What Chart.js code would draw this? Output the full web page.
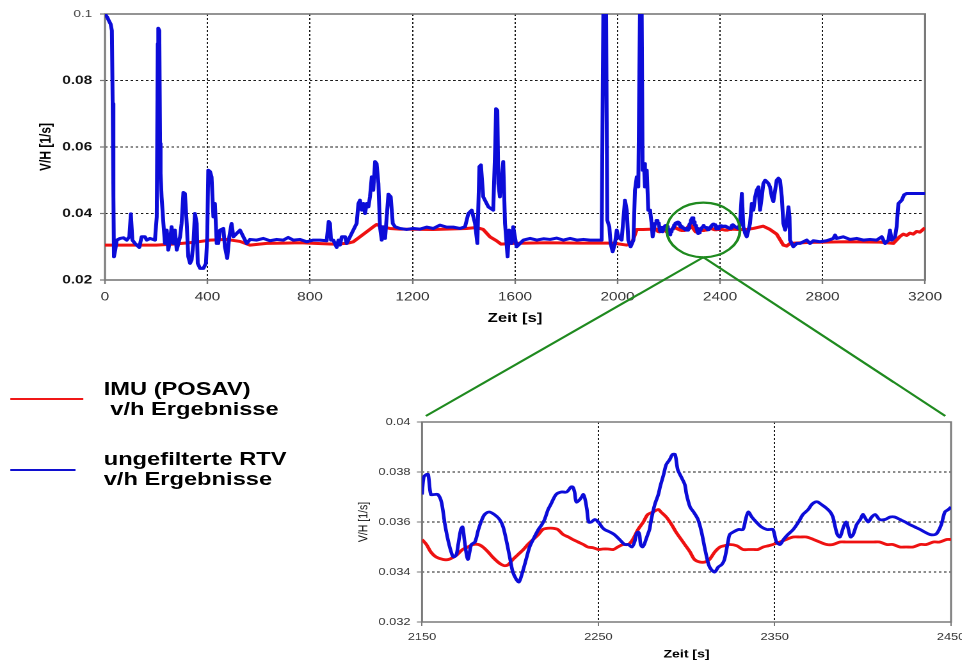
<!DOCTYPE html>
<html>
<head>
<meta charset="utf-8">
<script src="https://cdn.jsdelivr.net/npm/chart.js@4.4.1/dist/chart.umd.min.js"></script>
<style>
html, body { margin: 0; padding: 0; background: #fff; overflow: hidden; width: 962px; height: 662px; }
/* the original figure is stretched sideways, so the whole page is drawn narrow and scaled */
#page { position: absolute; left: 0; top: 0; width: 752px; height: 662px; transform: scaleX(1.28); transform-origin: 0 0; font-family: "Liberation Sans", Arial, sans-serif; }
#mainChart { position: absolute; left: 0; top: 0; }
#zoomChart { position: absolute; left: 270px; top: 400px; }
#overlay { position: absolute; left: 0; top: 0; pointer-events: none; }
.leg { position: absolute; left: 81px; font-weight: bold; font-size: 18.5px; line-height: 20px; color: #000; white-space: nowrap; }
.swatch { position: absolute; left: 8px; }
</style>
</head>
<body>
<div id="page">
  <canvas id="mainChart" width="752" height="335"></canvas>
  <canvas id="zoomChart" width="493" height="270"></canvas>
  <div class="swatch" style="top:398px;width:57px;height:1.6px;background:#f01818;"></div>
  <div class="leg" style="top:379px;">IMU (POSAV)<br>&nbsp;v/h Ergebnisse</div>
  <div class="swatch" style="top:469px;width:51px;height:2px;background:#1010d0;"></div>
  <div class="leg" style="top:449px;">ungefilterte RTV<br>v/h Ergebnisse</div>
  <svg id="overlay" width="752" height="662"></svg>
</div>
<script>
Chart.defaults.font.family = '"Liberation Sans", Arial, sans-serif';

const mainTimeTicks = [0, 400, 800, 1200, 1600, 2000, 2400, 2800, 3200];
const mainRateTicks = [0.02, 0.04, 0.06, 0.08, 0.1];
const zoomTimeTicks = [2150, 2250, 2350, 2450];
const zoomRateTicks = [0.032, 0.034, 0.036, 0.038, 0.04];

// ungefilterte RTV, whole flight (the 2150-2450 part comes from the zoom arrays)
const rtvTime = [
  0, 9, 17, 22, 27, 30, 33, 35, 40, 46,
  59, 72, 85, 95, 101, 107, 117, 134, 143, 156,
  163, 176, 195, 202, 206, 208, 212, 215, 217, 221,
  228, 234, 241, 247, 254, 260, 267, 273, 280, 293,
  299, 306, 312, 319, 325, 332, 338, 345, 351, 358,
  362, 371, 384, 394, 399, 403, 410, 416, 423, 429,
  436, 442, 449, 462, 468, 477, 485, 494, 501, 514,
  527, 540, 553, 566, 592, 618, 644, 670, 696, 715,
  735, 761, 787, 813, 839, 865, 873, 878, 882, 891,
  904, 911, 917, 924, 937, 943, 956, 969, 982, 989,
  995, 1002, 1008, 1015, 1021, 1028, 1034, 1041, 1047, 1054,
  1060, 1067, 1073, 1080, 1086, 1093, 1106, 1115, 1123, 1132,
  1151, 1177, 1203, 1229, 1255, 1281, 1307, 1333, 1359, 1385,
  1405, 1418, 1431, 1444, 1453, 1461, 1467, 1476, 1496, 1515,
  1523, 1526, 1531, 1535, 1541, 1548, 1554, 1561, 1567, 1571,
  1577, 1587, 1593, 1606, 1633, 1659, 1685, 1711, 1737, 1763,
  1789, 1815, 1841, 1867, 1893, 1919, 1938, 1945, 1955, 1960,
  1968, 1973, 1981, 1990, 1997, 2003, 2016, 2029, 2036, 2042,
  2051, 2062, 2068, 2075, 2081, 2088, 2094, 2098, 2103, 2107,
  2114, 2120, 2127, 2133, 2137, 2146,
  2459, 2472, 2478, 2485, 2491, 2498, 2504, 2511, 2517, 2524,
  2530, 2537, 2543, 2550, 2556, 2563, 2569, 2576, 2582, 2589,
  2595, 2602, 2608, 2615, 2621, 2628, 2634, 2641, 2647, 2654,
  2660, 2667, 2671, 2673, 2686, 2699, 2712, 2725, 2738, 2751,
  2764, 2790, 2816, 2842, 2849, 2855, 2881, 2907, 2933, 2959,
  2985, 3011, 3031, 3044, 3057, 3063, 3070, 3083, 3089, 3096,
  3109, 3118, 3128, 3200
];
const rtvValue = [
  0.100, 0.099, 0.0977, 0.097, 0.095, 0.073, 0.045, 0.027, 0.029, 0.032,
  0.0325, 0.0327, 0.032, 0.033, 0.0399, 0.032, 0.031, 0.0298, 0.033, 0.033,
  0.032, 0.0325, 0.032, 0.039, 0.091, 0.0957, 0.095, 0.061, 0.052, 0.045,
  0.037, 0.031, 0.035, 0.029, 0.032, 0.036, 0.031, 0.035, 0.029, 0.033,
  0.037, 0.0463, 0.046, 0.037, 0.027, 0.025, 0.026, 0.031, 0.040, 0.037,
  0.025, 0.0235, 0.0235, 0.025, 0.033, 0.053, 0.0526, 0.051, 0.039, 0.043,
  0.031, 0.031, 0.035, 0.0355, 0.030, 0.0265, 0.033, 0.037, 0.033, 0.034,
  0.035, 0.033, 0.031, 0.0322, 0.032, 0.0325, 0.0318, 0.0322, 0.032, 0.0328,
  0.032, 0.0322, 0.0315, 0.032, 0.032, 0.0318, 0.0376, 0.037, 0.032, 0.032,
  0.0298, 0.032, 0.0305, 0.033, 0.033, 0.031, 0.033, 0.035, 0.037, 0.043,
  0.044, 0.041, 0.043, 0.040, 0.043, 0.042, 0.045, 0.051, 0.047, 0.0556,
  0.055, 0.049, 0.036, 0.032, 0.036, 0.0325, 0.0458, 0.045, 0.037, 0.036,
  0.0355, 0.0352, 0.0355, 0.0353, 0.0359, 0.0355, 0.0365, 0.0359, 0.0359, 0.0355,
  0.036, 0.040, 0.041, 0.037, 0.031, 0.0541, 0.0546, 0.045, 0.042, 0.041,
  0.061, 0.0715, 0.071, 0.049, 0.045, 0.051, 0.0556, 0.037, 0.031, 0.027,
  0.035, 0.031, 0.036, 0.030, 0.032, 0.0325, 0.032, 0.0324, 0.0322, 0.0326,
  0.032, 0.0325, 0.032, 0.0322, 0.032, 0.032, 0.032, 0.105, 0.105, 0.038,
  0.036, 0.031, 0.0285, 0.031, 0.035, 0.033, 0.032, 0.044, 0.041, 0.032,
  0.030, 0.032, 0.047, 0.051, 0.048, 0.105, 0.105, 0.053, 0.055, 0.048,
  0.053, 0.041, 0.041, 0.037, 0.033, 0.037,
  0.036, 0.0355, 0.037, 0.046, 0.036, 0.034, 0.033, 0.035, 0.037, 0.043,
  0.041, 0.045, 0.047, 0.048, 0.041, 0.045, 0.049, 0.050, 0.0496, 0.049,
  0.048, 0.045, 0.0436, 0.047, 0.050, 0.0506, 0.050, 0.045, 0.037, 0.035,
  0.037, 0.042, 0.039, 0.032, 0.030, 0.031, 0.031, 0.0315, 0.032, 0.031,
  0.0318, 0.0315, 0.0318, 0.0325, 0.0335, 0.0325, 0.033, 0.0322, 0.0325, 0.032,
  0.0322, 0.032, 0.033, 0.031, 0.032, 0.035, 0.032, 0.033, 0.036, 0.043,
  0.044, 0.0456, 0.046, 0.046
];

// IMU (POSAV), whole flight
const imuTime = [
  0, 100, 200, 250, 300, 345, 410, 475, 527, 566,
  631, 700, 761, 891, 943, 969, 995, 1021, 1047, 1060,
  1080, 1112, 1151, 1281, 1411, 1450, 1476, 1502, 1528, 1545,
  1593, 1723, 1853, 1983, 2035, 2055, 2075, 2100, 2140,
  2470, 2504, 2530, 2568, 2595, 2621, 2647, 2660, 2673, 2750,
  2894, 3024, 3076, 3102, 3115, 3128, 3141, 3154, 3167, 3180,
  3192, 3200
];
const imuValue = [
  0.0305, 0.0305, 0.0305, 0.0307, 0.031, 0.0313, 0.032, 0.0322, 0.0316, 0.0305,
  0.031, 0.0311, 0.0312, 0.0308, 0.031, 0.0315, 0.033, 0.0345, 0.036, 0.0367,
  0.036, 0.0355, 0.0353, 0.0352, 0.0355, 0.0358, 0.0352, 0.033, 0.0318, 0.0308,
  0.031, 0.0312, 0.0311, 0.0311, 0.0305, 0.0308, 0.0352, 0.0352, 0.0353,
  0.0352, 0.0352, 0.0355, 0.0362, 0.0352, 0.0338, 0.0305, 0.0302, 0.031, 0.0313,
  0.0315, 0.0314, 0.031, 0.0331, 0.0338, 0.0334, 0.0341, 0.0338, 0.0346, 0.0344,
  0.0352, 0.0357
];

// zoomed window 2150-2450 s
const zoomRtvTime = [
  2150, 2151, 2152.5, 2153.5, 2155, 2157, 2159, 2161, 2163, 2165,
  2167, 2168, 2169.5, 2170.5, 2172, 2173, 2174, 2175, 2176, 2177,
  2178, 2180, 2182, 2184, 2185.5, 2188, 2191, 2194, 2196, 2198,
  2200, 2201.5, 2203.5, 2205, 2207, 2209, 2211, 2213, 2216, 2218,
  2219.5, 2221.5, 2223, 2226, 2229, 2232, 2234.5, 2235.5, 2236.5, 2237.5,
  2239.5, 2240.5, 2241.5, 2242.5, 2243.5, 2244.5, 2246, 2248, 2250, 2252,
  2253.5, 2256.5, 2259, 2262, 2265, 2267, 2269, 2270.5, 2271.5, 2272.5,
  2273.3, 2274, 2275, 2276, 2277, 2278, 2279, 2280, 2282, 2284,
  2285, 2287, 2288.5, 2290.5, 2292, 2293.5, 2295, 2297, 2299, 2300,
  2302, 2304, 2306.5, 2308.5, 2310.5, 2312.5, 2314, 2316, 2318, 2320,
  2321.5, 2323.5, 2324.5, 2326.5, 2329.5, 2332, 2333.5, 2335, 2337, 2339.5,
  2342.5, 2345.5, 2347, 2349, 2351, 2353, 2355, 2357.5, 2360.5, 2363.5,
  2366, 2369, 2371, 2373, 2374.5, 2376.5, 2378.5, 2381.5, 2383, 2384,
  2385.5, 2387, 2389, 2390.5, 2391.5, 2393, 2394.5, 2396.5, 2398.5, 2400,
  2401, 2403, 2405, 2407, 2409.5, 2412.5, 2415.5, 2418, 2421, 2424,
  2426.5, 2429.5, 2432.5, 2435, 2438, 2441, 2442.5, 2444.5, 2446.5, 2448.5,
  2450
];
const zoomRtvValue = [
  0.0371, 0.0378, 0.0379, 0.0379, 0.0371, 0.0371, 0.0371, 0.0368, 0.0359, 0.0352,
  0.0347, 0.0346, 0.0347, 0.0351, 0.0357, 0.0358, 0.0353, 0.0348, 0.0345, 0.0348,
  0.0351, 0.0352, 0.0357, 0.0361, 0.0363, 0.0364, 0.0363, 0.0361, 0.0358, 0.0352,
  0.0345, 0.0340, 0.0337, 0.0336, 0.0340, 0.0345, 0.0350, 0.0353, 0.0357, 0.0359,
  0.0361, 0.0365, 0.0367, 0.0371, 0.0372, 0.0372, 0.0374, 0.0374, 0.0372, 0.0368,
  0.0369, 0.0370, 0.0371, 0.0369, 0.0365, 0.0360, 0.0360, 0.0361, 0.0360, 0.0358,
  0.0357, 0.0356, 0.0355, 0.0353, 0.0351, 0.0351, 0.0350, 0.0352, 0.0355, 0.0356,
  0.0355, 0.0351, 0.0350, 0.0351, 0.0353, 0.0355, 0.0357, 0.0361, 0.0367, 0.0371,
  0.0374, 0.0379, 0.0383, 0.0385, 0.0387, 0.0387, 0.0381, 0.0378, 0.0375, 0.0371,
  0.0366, 0.0364, 0.0361, 0.0356, 0.0349, 0.0343, 0.0341, 0.0340, 0.0342, 0.0343,
  0.0345, 0.0352, 0.0355, 0.0356, 0.0357, 0.0357, 0.0361, 0.0364, 0.0362, 0.0360,
  0.0358, 0.0357, 0.0357, 0.0357, 0.0352, 0.0351, 0.0353, 0.0355, 0.0357, 0.0360,
  0.0363, 0.0365, 0.0367, 0.0368, 0.0368, 0.0367, 0.0366, 0.0364, 0.0362, 0.0359,
  0.0355, 0.0354, 0.0358, 0.0360, 0.0358, 0.0354, 0.0355, 0.0359, 0.0361, 0.0363,
  0.0362, 0.0360, 0.0362, 0.0363, 0.0361, 0.0361, 0.0362, 0.0362, 0.0361, 0.0360,
  0.0359, 0.0358, 0.0357, 0.0356, 0.0355, 0.0355, 0.0356, 0.0359, 0.0364, 0.0365,
  0.0366
];
const zoomImuTime = [
  2150, 2152.5, 2155, 2158, 2162, 2165, 2168, 2170, 2173, 2176,
  2179, 2182, 2184.5, 2187.5, 2190, 2193, 2195, 2197, 2199, 2201.5,
  2204.5, 2207.5, 2210, 2213, 2216, 2218.5, 2221.5, 2224, 2227, 2230,
  2233, 2235.5, 2238.5, 2241.5, 2244, 2247, 2250, 2252.5, 2255.5, 2258.5,
  2261, 2264, 2267, 2269.5, 2272.5, 2275.5, 2278, 2281, 2284, 2285.5,
  2288.5, 2291.5, 2294, 2297, 2299, 2302, 2304.5, 2307.5, 2310.5, 2313,
  2316, 2319, 2321.5, 2324.5, 2328.5, 2332, 2335, 2338, 2340.5, 2343.5,
  2346.5, 2349, 2353, 2356.5, 2360.5, 2364.5, 2368, 2372, 2375.5, 2379.5,
  2383, 2387, 2390.5, 2394.5, 2398.5, 2402, 2406, 2409.5, 2413.5, 2417,
  2421, 2424.5, 2428.5, 2432.5, 2436, 2440, 2443.5, 2447.5, 2450
];
const zoomImuValue = [
  0.0353, 0.0351, 0.0348, 0.0346, 0.0345, 0.0345, 0.0346, 0.0347, 0.0349, 0.0350,
  0.0351, 0.0351, 0.0350, 0.0348, 0.0346, 0.0344, 0.0343, 0.03425, 0.0343, 0.0345,
  0.0347, 0.0349, 0.0351, 0.0353, 0.0355, 0.0357, 0.03575, 0.03575, 0.0357, 0.0355,
  0.0354, 0.0353, 0.0352, 0.0351, 0.0350, 0.03497, 0.0349, 0.03492, 0.03492, 0.0349,
  0.0350, 0.0351, 0.0351, 0.0353, 0.0357, 0.0360, 0.0363, 0.0364, 0.0365, 0.0364,
  0.0362, 0.0359, 0.0356, 0.0353, 0.0351, 0.0348, 0.0345, 0.0344, 0.0344, 0.0345,
  0.0348, 0.0350, 0.03505, 0.0351, 0.03505, 0.0349, 0.0349, 0.0349, 0.0349, 0.0350,
  0.03505, 0.0351, 0.0352, 0.0353, 0.0354, 0.0354, 0.0354, 0.0353, 0.0352, 0.0351,
  0.0351, 0.0352, 0.0352, 0.0352, 0.0352, 0.0352, 0.0352, 0.0352, 0.0351, 0.0351,
  0.0350, 0.0350, 0.0350, 0.0351, 0.0351, 0.0352, 0.0352, 0.0353, 0.0353
];

const RED = '#ee1111';
const BLUE = '#0c0cd8';
const GREEN = '#1f8a1f';

function points(times, values)
{
  return times.map(function (t, i) { return {x: t, y: values[i]}; });
}
function merged(times, values, zTimes, zValues)
{
  return points(times, values).concat(points(zTimes, zValues)).sort(function (a, b) { return a.x - b.x; });
}
function fixedTicks(list)
{
  return function (scale) { scale.ticks = list.map(function (v) { return {value: v}; }); };
}
function gridColor(list)
{
  // the end lines sit under the frame
  return function (c) {
    const v = c.tick ? c.tick.value : null;
    return (v === list[0] || v === list[list.length - 1]) ? 'rgba(0,0,0,0)' : '#1a1a1a';
  };
}

const framePlugin = {
  id: 'frame',
  beforeDatasetsDraw(chart, args, opts) {
    const a = chart.chartArea;
    const ctx = chart.ctx;
    ctx.save();
    ctx.strokeStyle = opts.color;
    ctx.lineWidth = opts.width;
    ctx.strokeRect(a.left, a.top, a.right - a.left, a.bottom - a.top);
    ctx.restore();
  }
};

const mainChart = new Chart(document.getElementById('mainChart'), {
  type: 'line',
  data: {
    datasets: [
      { label: 'ungefilterte RTV v/h Ergebnisse', data: merged(rtvTime, rtvValue, zoomRtvTime, zoomRtvValue),
        borderColor: BLUE, borderWidth: 3, order: 0 },
      { label: 'IMU (POSAV) v/h Ergebnisse', data: merged(imuTime, imuValue, zoomImuTime, zoomImuValue),
        borderColor: RED, borderWidth: 3, order: 1 }
    ]
  },
  options: {
    responsive: false,
    animation: false,
    devicePixelRatio: 2,
    layout: { padding: { left: 0, right: 29.3, top: 14, bottom: 0 } },
    elements: { point: { radius: 0 }, line: { tension: 0, borderJoinStyle: 'round', fill: false } },
    plugins: { legend: { display: false }, tooltip: { enabled: false }, frame: { color: '#7a7a7a', width: 1.6 } },
    scales: {
      x: {
        type: 'linear', min: 0, max: 3200,
        afterBuildTicks: fixedTicks(mainTimeTicks),
        afterFit: function (s) { s.height = 55; },
        ticks: { color: '#333', font: { size: 12 }, padding: 6, maxRotation: 0, callback: function (v) { return String(v); } },
        grid: { color: gridColor(mainTimeTicks), lineWidth: 1, tickLength: 4, tickColor: '#777', tickWidth: 1.2, tickBorderDash: [] },
        border: { display: false, dash: [2, 2] },
        title: { display: true, text: 'Zeit [s]', color: '#000', font: { size: 13, weight: 'bold' }, padding: { top: 0, bottom: 9 } }
      },
      y: {
        type: 'linear', min: 0.02, max: 0.1,
        afterBuildTicks: fixedTicks(mainRateTicks),
        afterFit: function (s) { s.width = 82; },
        ticks: {
          color: function (c) { return c.tick && c.tick.value === 0.1 ? '#444' : '#111'; },
          font: function (c) { return c.tick && c.tick.value === 0.1 ? { size: 10.5, weight: 'normal' } : { size: 12, weight: 'bold' }; },
          padding: 6,
          callback: function (v) { return String(v); }
        },
        grid: { color: gridColor(mainRateTicks), lineWidth: 1, tickLength: 4, tickColor: '#777', tickWidth: 1.2, tickBorderDash: [] },
        border: { display: false, dash: [2, 2] },
        title: { display: true, text: 'V/H [1/s]', color: '#000', font: { size: 12, weight: 'bold' }, padding: { top: 29, bottom: 0 } }
      }
    }
  },
  plugins: [framePlugin]
});

const zoomChart = new Chart(document.getElementById('zoomChart'), {
  type: 'line',
  data: {
    datasets: [
      { label: 'ungefilterte RTV v/h Ergebnisse', data: points(zoomRtvTime, zoomRtvValue), borderColor: BLUE, borderWidth: 2.8, order: 0 },
      { label: 'IMU (POSAV) v/h Ergebnisse', data: points(zoomImuTime, zoomImuValue), borderColor: RED, borderWidth: 2.8, order: 1 }
    ]
  },
  options: {
    responsive: false,
    animation: false,
    devicePixelRatio: 2,
    layout: { padding: { left: 0, right: 20, top: 22, bottom: 0 } },
    elements: { point: { radius: 0 }, line: { tension: 0.3, borderJoinStyle: 'round', fill: false } },
    plugins: { legend: { display: false }, tooltip: { enabled: false }, frame: { color: '#7a7a7a', width: 1.5 } },
    scales: {
      x: {
        type: 'linear', min: 2150, max: 2450,
        afterBuildTicks: fixedTicks(zoomTimeTicks),
        afterFit: function (s) { s.height = 48; },
        ticks: { color: '#333', font: { size: 10 }, padding: 5, maxRotation: 0, callback: function (v) { return String(v); } },
        grid: { color: gridColor(zoomTimeTicks), lineWidth: 1, tickLength: 4, tickColor: '#777', tickWidth: 1, tickBorderDash: [] },
        border: { display: false, dash: [2, 2] },
        title: { display: true, text: 'Zeit [s]', color: '#000', font: { size: 11, weight: 'bold' }, padding: { top: 0, bottom: 9 } }
      },
      y: {
        type: 'linear', min: 0.032, max: 0.04,
        afterBuildTicks: fixedTicks(zoomRateTicks),
        afterFit: function (s) { s.width = 59.7; },
        ticks: { color: '#333', font: { size: 10 }, padding: 5, callback: function (v) { return String(v); } },
        grid: { color: gridColor(zoomRateTicks), lineWidth: 1, tickLength: 4, tickColor: '#777', tickWidth: 1, tickBorderDash: [] },
        border: { display: false, dash: [2, 2] },
        title: { display: true, text: 'V/H [1/s]', color: '#111', font: { size: 10.5 }, padding: { top: 8, bottom: 0 } }
      }
    }
  },
  plugins: [framePlugin]
});

// green ring round the zoomed window in the main chart, and the two lines down to the zoom chart
function DrawRing()
{
  const xs = mainChart.scales.x;
  const ys = mainChart.scales.y;
  const x1 = xs.getPixelForValue(2192), x2 = xs.getPixelForValue(2478);
  const y1 = ys.getPixelForValue(0.04325), y2 = ys.getPixelForValue(0.02683);
  const cx = (x1 + x2) / 2, cy = (y1 + y2) / 2;
  const rx = (x2 - x1) / 2, ry = (y2 - y1) / 2;
  const za = zoomChart.chartArea;
  const zl = 270 + za.left + 3, zr = 270 + za.right - 4.5, zt = 400 + za.top - 6;
  const svg = document.getElementById('overlay');
  svg.innerHTML =
    '<ellipse cx="' + cx + '" cy="' + cy + '" rx="' + rx + '" ry="' + ry + '" fill="none" stroke="' + GREEN + '" stroke-width="2.2"/>' +
    '<line x1="' + cx + '" y1="' + y2 + '" x2="' + zl + '" y2="' + zt + '" stroke="' + GREEN + '" stroke-width="2"/>' +
    '<line x1="' + cx + '" y1="' + y2 + '" x2="' + zr + '" y2="' + zt + '" stroke="' + GREEN + '" stroke-width="2"/>';
}
DrawRing();
</script>
</body>
</html>
